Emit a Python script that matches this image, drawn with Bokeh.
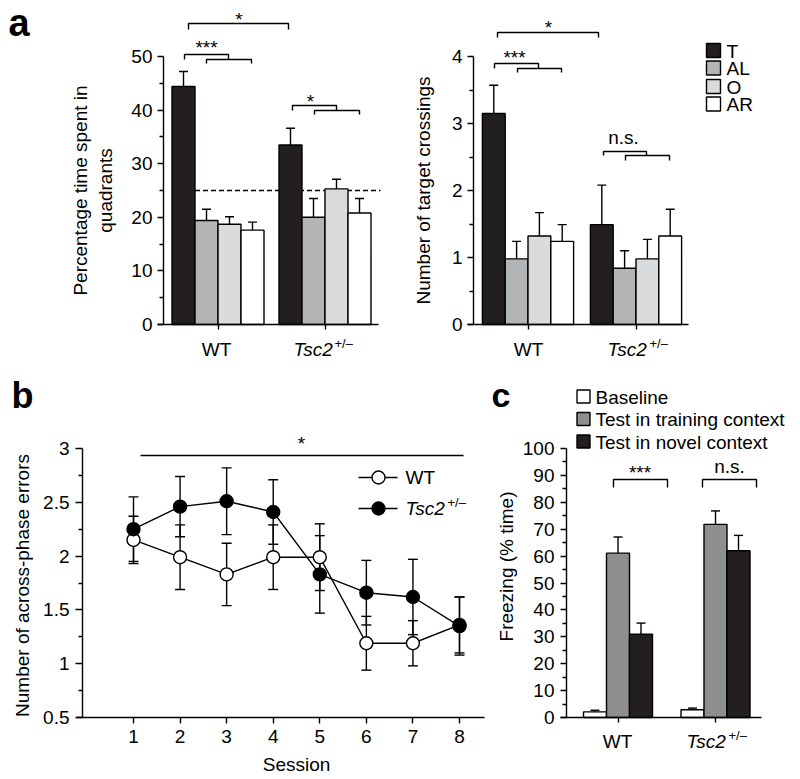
import math
from bokeh.plotting import figure
from bokeh.models import Range1d, FixedTicker, Label, Whisker, TeeHead, ColumnDataSource
from bokeh.layouts import column, row
from bokeh.embed import file_html
from bokeh.resources import INLINE

FONT = "Liberation Sans"
FSZ = 19

# ---------------- data ----------------
groups = ["WT", "Tsc2"]
group_pos = [1, 2]
quadrants = ["T", "AL", "O", "AR"]
quad_colors = ["#231f20", "#b3b4b6", "#dadbdc", "#ffffff"]

time_wt = [44.4, 19.4, 18.7, 17.6]
time_wt_sem = [2.8, 2.1, 1.4, 1.5]
time_tsc2 = [33.5, 20.0, 25.3, 20.8]
time_tsc2_sem = [3.1, 3.5, 1.8, 2.7]
chance_level = 25

cross_wt = [3.15, 0.98, 1.32, 1.24]
cross_wt_sem = [0.42, 0.26, 0.35, 0.25]
cross_tsc2 = [1.49, 0.84, 0.98, 1.32]
cross_tsc2_sem = [0.59, 0.26, 0.29, 0.40]

sessions = [1, 2, 3, 4, 5, 6, 7, 8]
err_wt = [2.15, 1.99, 1.83, 1.99, 1.99, 1.19, 1.19, 1.36]
err_wt_sem = [0.22, 0.30, 0.29, 0.30, 0.31, 0.25, 0.21, 0.26]
err_tsc2 = [2.25, 2.46, 2.51, 2.41, 1.83, 1.66, 1.62, 1.35]
err_tsc2_sem = [0.30, 0.28, 0.31, 0.30, 0.36, 0.30, 0.35, 0.27]

conditions = ["Baseline", "Test in training context", "Test in novel context"]
cond_colors = ["#ffffff", "#8e8f91", "#231f20"]
freeze_wt = [2.1, 61.1, 31.0]
freeze_wt_sem = [0.6, 6.0, 4.1]
freeze_tsc2 = [2.9, 71.8, 62.0]
freeze_tsc2_sem = [0.6, 5.0, 5.7]

LW = 1.4
BASE_SHIFT = 0.33   # Label alphabetic baseline correction (em)
SPLIT = 372         # page y where the bottom row starts


class Panel:
    """Figure whose frame fills it; X/Y map page pixels to data."""

    def __init__(self, ox, oy, w, h, xa, ya):
        self.kx = (xa[3] - xa[1]) / (xa[2] - xa[0])
        self.x0 = xa[1] - xa[0] * self.kx
        self.ky = (ya[3] - ya[1]) / (ya[2] - ya[0])
        self.y0 = ya[1] - ya[0] * self.ky
        p = figure(width=w, height=h,
                   x_range=Range1d(self.X(ox), self.X(ox + w)),
                   y_range=Range1d(self.Y(oy + h), self.Y(oy)),
                   output_backend="svg", toolbar_location=None, min_border=0)
        p.outline_line_color = None
        p.xgrid.visible = False
        p.ygrid.visible = False
        p.background_fill_color = "white"
        p.border_fill_color = "white"
        self.p = p

    def X(self, px):
        return self.x0 + px * self.kx

    def Y(self, py):
        return self.y0 + py * self.ky


def style_axis(ax, ticks, minor=(), bounds=None, tick_out=6, standoff=5, labels=True, fixed=None):
    ax.ticker = FixedTicker(ticks=list(ticks), minor_ticks=list(minor))
    ax.fixed_location = fixed
    ax.axis_line_color = "black"
    ax.axis_line_width = LW
    ax.major_tick_line_color = "black"
    ax.major_tick_line_width = LW
    ax.minor_tick_line_color = "black"
    ax.minor_tick_line_width = LW
    ax.major_tick_in = 0
    ax.major_tick_out = tick_out
    ax.minor_tick_in = 0
    ax.minor_tick_out = 4
    ax.major_label_text_font = FONT
    ax.major_label_text_font_size = f"{FSZ}px"
    ax.major_label_text_color = "black"
    ax.major_label_standoff = standoff
    if bounds is not None:
        ax.bounds = bounds
    ov = {}
    for t in ticks:
        key = int(t) if float(t).is_integer() else t
        ov[key] = (f"{t:g}" if labels else "")
    ax.major_label_overrides = ov


def txt(P, px, py, s, size=FSZ, align="left", style="normal", angle=0, baseline="alphabetic"):
    if baseline == "alphabetic":
        py = py - BASE_SHIFT * size
    P.p.add_layout(Label(x=P.X(px), y=P.Y(py), text=s, text_font=FONT, text_font_size=f"{size}px",
                         text_align=align, text_baseline=baseline, text_font_style=style,
                         angle=angle, text_color="black"))


def lines(P, paths):
    P.p.multi_line(xs=[[P.X(a) for a, b in path] for path in paths],
                   ys=[[P.Y(b) for a, b in path] for path in paths],
                   line_color="black", line_width=LW)


def bracket(P, x1, x2, y, leg):
    lines(P, [[(x1, y + leg), (x1, y), (x2, y), (x2, y + leg)]])


def comb(P, a1, a2, b1, b2, y1, y2, leg):
    lines(P, [[(a1, y2), (a1, y1), (a2, y1), (a2, y2)],
              [(b1, y2 + leg), (b1, y2), (b2, y2), (b2, y2 + leg)]])


def grouped_bars(P, centers, vals, sems, colors, bw, head=9):
    xs, tops, ups, cols = [], [], [], []
    for c, v, s in zip(centers, vals, sems):
        n = len(v)
        for i in range(n):
            xs.append(c + (i - (n - 1) / 2) * bw)
            tops.append(v[i])
            ups.append(v[i] + s[i])
            cols.append(colors[i])
    src = ColumnDataSource(dict(x=xs, top=tops, upper=ups, color=cols))
    P.p.add_layout(Whisker(source=src, base="x", lower="top", upper="upper", dimension="height",
                           line_color="black", line_width=LW,
                           upper_head=TeeHead(size=head, line_color="black", line_width=LW),
                           lower_head=None))
    P.p.vbar(x="x", top="top", bottom=0, width=bw, fill_color="color", line_color="black",
             line_width=LW, source=src)


def tsc2_label(P, left, base, sup_left, sup_base):
    txt(P, left, base, "Tsc2", style="italic")
    txt(P, sup_left, sup_base, "+/\u2013", size=13)


# ---------------- panel a (left) ----------------
A1 = Panel(0, 0, 400, SPLIT, (217.5, 1, 324.5, 2), (324, 0, 56, 50))
p = A1.p
bw1 = 23 * A1.kx
p.segment(x0=[group_pos[0] - bw1], x1=[A1.X(380)], y0=[chance_level], y1=[chance_level],
          line_color="black", line_width=LW, line_dash="5 3")
grouped_bars(A1, group_pos, [time_wt, time_tsc2], [time_wt_sem, time_tsc2_sem], quad_colors, bw1)
style_axis(p.yaxis[0], range(0, 51, 10), range(5, 50, 10), bounds=(0, 50), fixed=A1.X(163))
style_axis(p.xaxis[0], group_pos, bounds=(A1.X(157), A1.X(378)), tick_out=5, labels=False, fixed=0)
txt(A1, 8, 35, "a", size=38, style="bold")
txt(A1, 80, 190, "Percentage time spent in", align="center", angle=math.pi / 2, baseline="middle")
txt(A1, 105, 190, "quadrants", align="center", angle=math.pi / 2, baseline="middle")
txt(A1, 216, 355, groups[0], align="center")
tsc2_label(A1, 293, 355, 334, 347)
bracket(A1, 188, 288, 23, 6)
comb(A1, 184, 228, 206, 251, 54, 59, 4)
comb(A1, 292, 336, 314, 359, 105, 110, 4)
txt(A1, 238.5, 25, "*", align="center")
txt(A1, 206, 53.5, "***", align="center")
txt(A1, 310, 107, "*", align="center")

# ---------------- panel a (right) ----------------
A2 = Panel(400, 0, 400, SPLIT, (527.5, 1, 635.5, 2), (324, 0, 56, 4))
p = A2.p
bw2 = 22.8 * A2.kx
grouped_bars(A2, group_pos, [cross_wt, cross_tsc2], [cross_wt_sem, cross_tsc2_sem], quad_colors, bw2)
style_axis(p.yaxis[0], range(0, 5), [0.5, 1.5, 2.5, 3.5], bounds=(0, 4), fixed=A2.X(473))
style_axis(p.xaxis[0], group_pos, bounds=(A2.X(467), A2.X(688)), tick_out=5, labels=False, fixed=0)
txt(A2, 423, 190, "Number of target crossings", align="center", angle=math.pi / 2, baseline="middle")
txt(A2, 528, 355, groups[0], align="center")
tsc2_label(A2, 607, 355, 649, 347)
bracket(A2, 497, 598, 32, 5)
comb(A2, 494, 538, 517, 561, 63, 68, 4)
comb(A2, 603, 646, 625, 669, 151, 155, 5)
txt(A2, 548, 33.5, "*", align="center")
txt(A2, 514, 63, "***", align="center")
txt(A2, 623, 143, "n.s.", align="center")
leg_y = [50, 67.5, 86, 103.5]
p.scatter(x=[A2.X(713)] * 4, y=[A2.Y(v) for v in leg_y], marker="square", size=14,
          fill_color=quad_colors, line_color="black", line_width=LW)
for q, yy in zip(quadrants, leg_y):
    txt(A2, 726, yy + 7, q)

# ---------------- panel b ----------------
B = Panel(0, SPLIT, 485, 779 - SPLIT, (133, 1, 459, 8), (717, 0.5, 448, 3))
p = B.p
for vals, sems in ((err_wt, err_wt_sem), (err_tsc2, err_tsc2_sem)):
    src = ColumnDataSource(dict(x=sessions, lo=[v - s for v, s in zip(vals, sems)],
                                hi=[v + s for v, s in zip(vals, sems)]))
    p.add_layout(Whisker(source=src, base="x", lower="lo", upper="hi", dimension="height",
                         line_color="black", line_width=LW,
                         upper_head=TeeHead(size=10, line_color="black", line_width=LW),
                         lower_head=TeeHead(size=10, line_color="black", line_width=LW)))
p.line(sessions, err_wt, line_color="black", line_width=LW)
p.line(sessions, err_tsc2, line_color="black", line_width=LW)
p.scatter(sessions, err_wt, size=13, fill_color="white", line_color="black", line_width=LW)
p.scatter(sessions, err_tsc2, size=13, fill_color="black", line_color="black", line_width=LW)
style_axis(p.yaxis[0], [0.5, 1, 1.5, 2, 2.5, 3], [0.75, 1.25, 1.75, 2.25, 2.75], bounds=(0.5, 3),
           tick_out=7, standoff=6, fixed=B.X(82))
style_axis(p.xaxis[0], sessions, bounds=(B.X(76), B.X(484)), tick_out=6, standoff=6, fixed=0.5)
txt(B, 11, 407, "b", size=36, style="bold")
txt(B, 22, 585, "Number of across-phase errors", align="center", angle=math.pi / 2, baseline="middle")
txt(B, 296, 770, "Session", align="center")
lines(B, [[(140, 455), (463, 455)]])
txt(B, 301, 449, "*", align="center")
for yy, fill in ((477, "white"), (508, "black")):
    p.segment(x0=[B.X(358)], x1=[B.X(397)], y0=[B.Y(yy)], y1=[B.Y(yy)], line_color="black", line_width=LW)
    p.scatter([B.X(378)], [B.Y(yy)], size=13, fill_color=fill, line_color="black", line_width=LW)
txt(B, 405, 483, groups[0])
tsc2_label(B, 405, 514, 447, 506)

# ---------------- panel c ----------------
C = Panel(485, SPLIT, 315, 779 - SPLIT, (617.5, 1, 715, 2), (717, 0, 448, 100))
p = C.p
bw4 = 23 * C.kx
grouped_bars(C, group_pos, [freeze_wt, freeze_tsc2], [freeze_wt_sem, freeze_tsc2_sem], cond_colors, bw4)
style_axis(p.yaxis[0], range(0, 101, 10), range(5, 100, 10), bounds=(0, 100), standoff=6, fixed=C.X(566))
style_axis(p.xaxis[0], group_pos, bounds=(C.X(560), C.X(761)), tick_out=5, labels=False, fixed=0)
txt(C, 491, 406, "c", size=34, style="bold")
txt(C, 506, 566, "Freezing (% time)", align="center", angle=math.pi / 2, baseline="middle")
txt(C, 617, 747, groups[0], align="center")
tsc2_label(C, 686, 747, 728, 739)
bracket(C, 613, 667, 479, 8)
bracket(C, 702, 756, 479, 8)
txt(C, 639.5, 478, "***", align="center")
txt(C, 729, 472, "n.s.", align="center")
leg_yc = [396, 418.5, 441]
p.scatter(x=[C.X(583)] * 3, y=[C.Y(v) for v in leg_yc], marker="square", size=13,
          fill_color=cond_colors, line_color="black", line_width=LW)
for cname, yy in zip(conditions, leg_yc):
    txt(C, 595, yy + 7, cname)

layout = column(row(A1.p, A2.p, spacing=0), row(B.p, C.p, spacing=0), spacing=0)
open("out.html", "w").write(file_html(layout, INLINE))
